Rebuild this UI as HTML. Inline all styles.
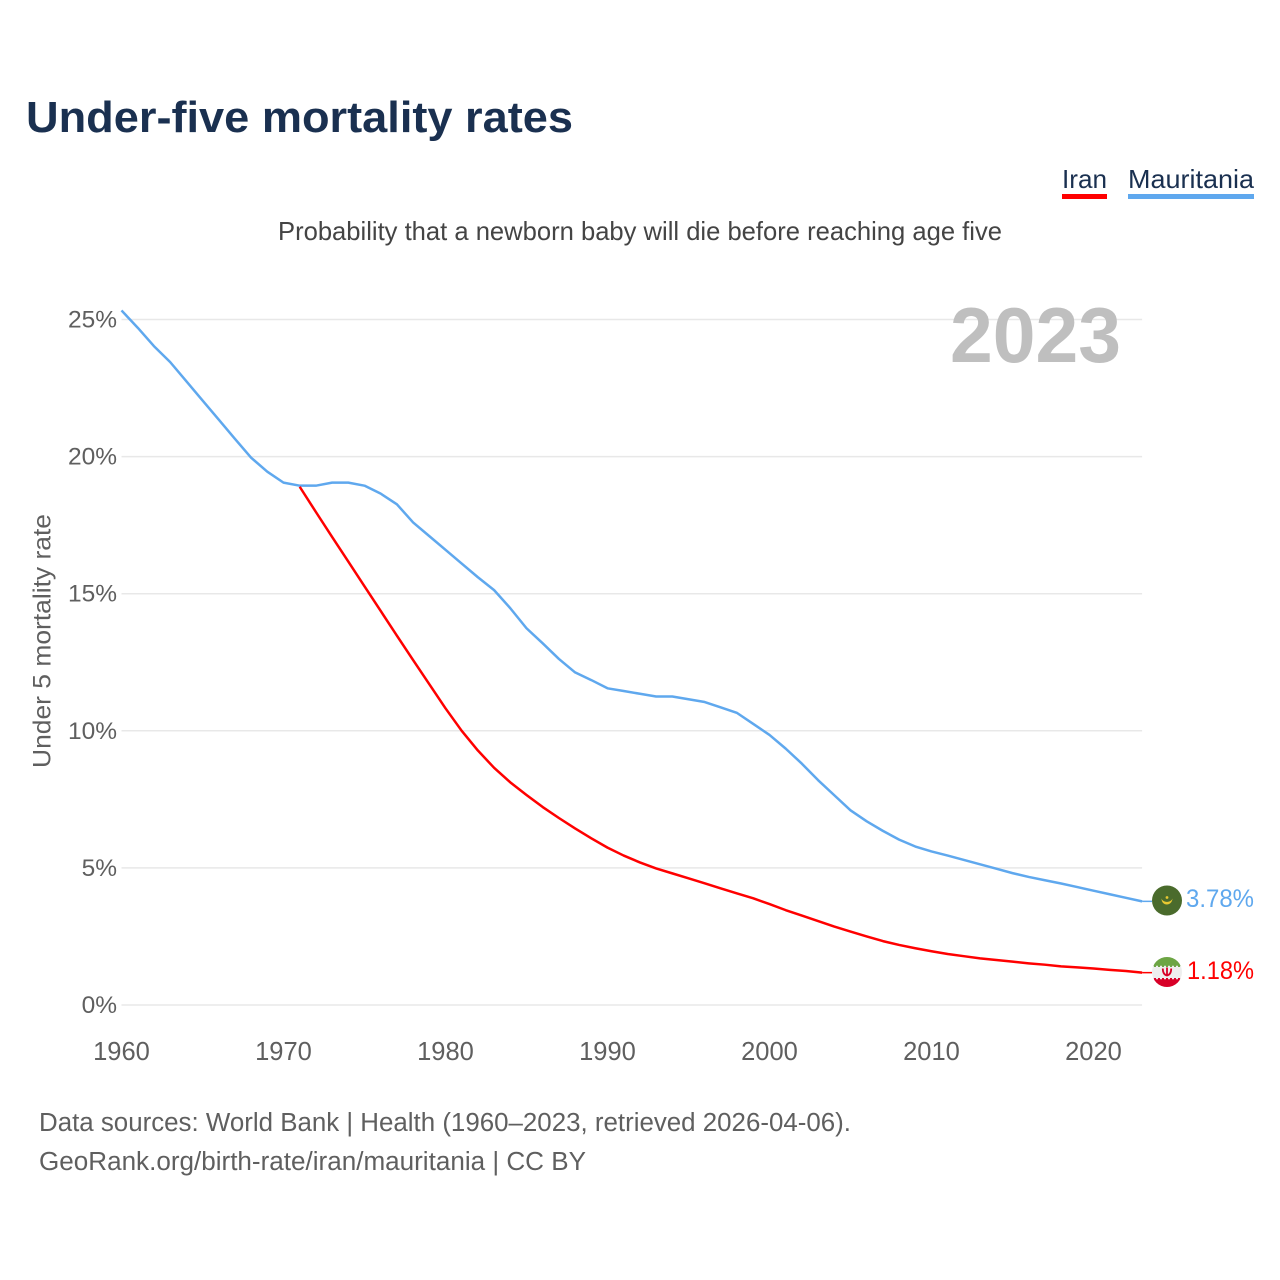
<!DOCTYPE html>
<html lang="en">
<head>
<meta charset="utf-8">
<title>Under-five mortality rates</title>
<style>
html,body{margin:0;padding:0;background:#fff;}
svg{display:block;font-family:"Liberation Sans",sans-serif;}
</style>
</head>
<body>
<svg id="chart" width="1280" height="1280" viewBox="0 0 1280 1280" xmlns="http://www.w3.org/2000/svg">
  <rect x="0" y="0" width="1280" height="1280" fill="#ffffff"/>
  <text x="26" y="132" font-size="44" font-weight="700" fill="#1a3050" textLength="547" lengthAdjust="spacingAndGlyphs">Under-five mortality rates</text>
  <g>
    <g>
      <text x="1062" y="188" font-size="26" fill="#1a3050" textLength="45" lengthAdjust="spacingAndGlyphs">Iran</text>
      <rect x="1062" y="194" width="45" height="5" fill="#ff0000"/>
    </g>
    <g>
      <text x="1128" y="188" font-size="26" fill="#1a3050" textLength="126" lengthAdjust="spacingAndGlyphs">Mauritania</text>
      <rect x="1128" y="194" width="126" height="5" fill="#5fa8ee"/>
    </g>
  </g>
  <text x="278" y="240" font-size="26" fill="#444444" textLength="724" lengthAdjust="spacingAndGlyphs">Probability that a newborn baby will die before reaching age five</text>
  <g id="grid"></g>
  <g id="ylabels"></g>
  <g id="xlabels"></g>
  <text x="950" y="362" font-size="78" font-weight="700" fill="#bfbfbf" textLength="171" lengthAdjust="spacingAndGlyphs">2023</text>
  <text transform="translate(50.5,768) rotate(-90)" x="0" y="0" font-size="25" fill="#5f5f5f" textLength="254" lengthAdjust="spacingAndGlyphs">Under 5 mortality rate</text>
  <path id="line-mauritania" fill="none" stroke="#5fa8ee" stroke-width="2.5" stroke-linejoin="round"/>
  <path id="line-iran" fill="none" stroke="#ff0000" stroke-width="2.5" stroke-linejoin="round"/>
  <line id="lead-mauritania" stroke="#5fa8ee" stroke-width="1.5"/>
  <line id="lead-iran" stroke="#ff0000" stroke-width="1.5"/>

  <defs>
    <clipPath id="flag-clip-ir"><circle cx="1167" cy="972" r="15"/></clipPath>
  </defs>
  <g id="flag-mauritania">
    <circle cx="1167" cy="900.500" r="15" fill="#4a6b2c"/>
    <path d="M1161.500 898.500c0 8 10.500 8 11 0c-1.500 4.500-9.500 4.500-11 0z" fill="#e8c832"/>
    <circle cx="1167" cy="897.500" r="1.400" fill="#e8c832"/>
  </g>
  <g id="flag-iran" clip-path="url(#flag-clip-ir)">
    <rect x="1152" y="957" width="30" height="30" fill="#eeeeee"/>
    <rect x="1152" y="957" width="30" height="10" fill="#6da544"/>
    <rect x="1152" y="978" width="30" height="9" fill="#d80027"/>
    <line x1="1152" y1="966.500" x2="1182" y2="966.500" stroke="#eeeeee" stroke-width="1.500" stroke-dasharray="2 2"/>
    <line x1="1152" y1="978.500" x2="1182" y2="978.500" stroke="#eeeeee" stroke-width="1.500" stroke-dasharray="2 2"/>
    <path d="M1162.800 968.500q0 6 4.200 7q4.200-1 4.200-7M1167 967.500v8" fill="none" stroke="#d80027" stroke-width="1.800"/>
  </g>
  <text id="value-mauritania" x="1186" y="907" font-size="25" fill="#5fa8ee" textLength="68" lengthAdjust="spacingAndGlyphs"></text>
  <text id="value-iran" x="1187" y="979" font-size="25" fill="#ff0000" textLength="67" lengthAdjust="spacingAndGlyphs"></text>
  <g font-size="25.500" fill="#5f5f5f">
    <text x="39" y="1131" textLength="812" lengthAdjust="spacingAndGlyphs">Data sources: World Bank | Health (1960–2023, retrieved 2026-04-06).</text>
    <text x="39" y="1170" textLength="547" lengthAdjust="spacingAndGlyphs">GeoRank.org/birth-rate/iran/mauritania | CC BY</text>
  </g>
</svg>
<script>
const years = [1960,1961,1962,1963,1964,1965,1966,1967,1968,1969,1970,1971,1972,1973,1974,1975,1976,1977,1978,1979,1980,1981,1982,1983,1984,1985,1986,1987,1988,1989,1990,1991,1992,1993,1994,1995,1996,1997,1998,1999,2000,2001,2002,2003,2004,2005,2006,2007,2008,2009,2010,2011,2012,2013,2014,2015,2016,2017,2018,2019,2020,2021,2022,2023];
const mauritaniaValues = [25.33,24.7,24.03,23.45,22.75,22.05,21.35,20.65,19.96,19.45,19.05,18.94,18.94,19.05,19.05,18.94,18.65,18.26,17.6,17.1,16.6,16.1,15.6,15.13,14.47,13.74,13.19,12.62,12.13,11.85,11.55,11.45,11.35,11.25,11.25,11.15,11.05,10.85,10.65,10.25,9.85,9.35,8.8,8.2,7.65,7.1,6.7,6.35,6.03,5.78,5.6,5.45,5.29,5.13,4.97,4.81,4.67,4.55,4.43,4.3,4.17,4.04,3.91,3.78];
const iranYears = [1971,1972,1973,1974,1975,1976,1977,1978,1979,1980,1981,1982,1983,1984,1985,1986,1987,1988,1989,1990,1991,1992,1993,1994,1995,1996,1997,1998,1999,2000,2001,2002,2003,2004,2005,2006,2007,2008,2009,2010,2011,2012,2013,2014,2015,2016,2017,2018,2019,2020,2021,2022,2023];
const iranValues = [18.9,17.98,17.07,16.17,15.27,14.37,13.47,12.58,11.7,10.82,10.0,9.28,8.65,8.12,7.66,7.22,6.82,6.44,6.08,5.74,5.45,5.2,4.98,4.8,4.62,4.44,4.25,4.07,3.89,3.68,3.46,3.26,3.06,2.86,2.68,2.5,2.33,2.19,2.07,1.96,1.86,1.78,1.7,1.64,1.58,1.52,1.47,1.41,1.37,1.33,1.28,1.24,1.18];
const yTickValues = [0,5,10,15,20,25];
const xTickValues = [1960,1970,1980,1990,2000,2010,2020];
const valueLabelMauritania = "3.78%";
const valueLabelIran = "1.18%";

const SVGNS = "http://www.w3.org/2000/svg";
function xScale(year){ return 121.5 + (year - 1960) * 16.2; }
function yScale(v){ return 1005 - v * 27.42; }
function linePath(xs, ys){
  return xs.map(function(x, i){ return (i ? "L" : "M") + xScale(x).toFixed(2) + " " + yScale(ys[i]).toFixed(2); }).join("");
}
const grid = document.getElementById("grid");
const ylabels = document.getElementById("ylabels");
const xlabels = document.getElementById("xlabels");
yTickValues.forEach(function(v){
  const l = document.createElementNS(SVGNS, "line");
  
  
  l.setAttribute("x1", xScale(1960));
  l.setAttribute("x2", xScale(2023));
  l.setAttribute("y1", yScale(v));
  l.setAttribute("y2", yScale(v));
  l.setAttribute("stroke", "#e8e8e8");
  l.setAttribute("stroke-width", "1.5");
  grid.appendChild(l);
  const t = document.createElementNS(SVGNS, "text");
  
  
  t.setAttribute("x", 117);
  t.setAttribute("y", yScale(v) + 8);
  t.setAttribute("text-anchor", "end");
  t.setAttribute("font-size", "24.5");
  t.setAttribute("fill", "#5f5f5f");
  t.textContent = v + "%";
  ylabels.appendChild(t);
});
xTickValues.forEach(function(y){
  const t = document.createElementNS(SVGNS, "text");
  
  
  t.setAttribute("x", xScale(y));
  t.setAttribute("y", 1060);
  t.setAttribute("text-anchor", "middle");
  t.setAttribute("font-size", "25.5");
  t.setAttribute("fill", "#5f5f5f");
  t.textContent = y;
  xlabels.appendChild(t);
});
document.getElementById("line-mauritania").setAttribute("d", linePath(years, mauritaniaValues));
document.getElementById("line-iran").setAttribute("d", linePath(iranYears, iranValues));
const endM = mauritaniaValues[mauritaniaValues.length - 1];
const endI = iranValues[iranValues.length - 1];
const lm = document.getElementById("lead-mauritania");
lm.setAttribute("x1", xScale(2023)); lm.setAttribute("x2", 1152);
lm.setAttribute("y1", yScale(endM)); lm.setAttribute("y2", yScale(endM));
const li = document.getElementById("lead-iran");
li.setAttribute("x1", xScale(2023)); li.setAttribute("x2", 1152);
li.setAttribute("y1", yScale(endI)); li.setAttribute("y2", yScale(endI));
document.getElementById("value-mauritania").textContent = valueLabelMauritania;
document.getElementById("value-iran").textContent = valueLabelIran;
</script>
</body>
</html>
